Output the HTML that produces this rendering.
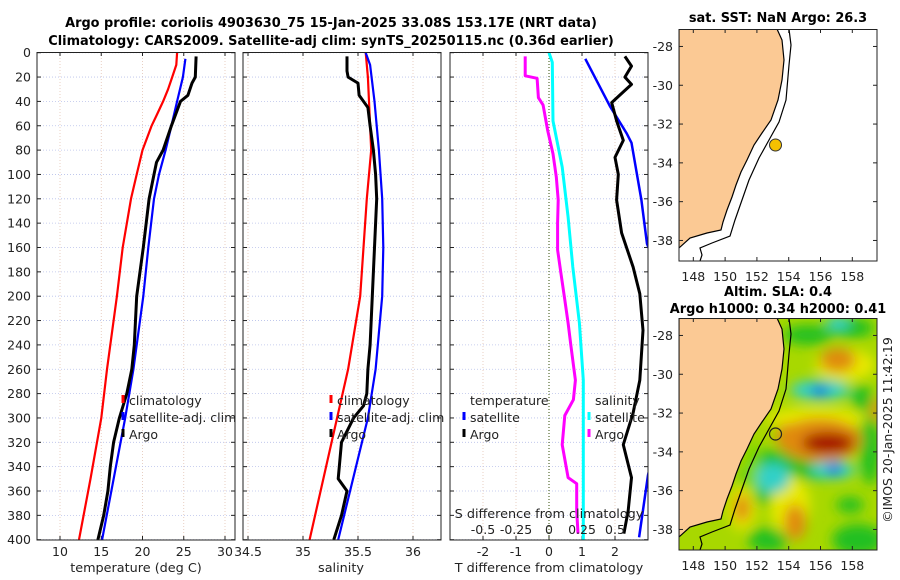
<!DOCTYPE html>
<html><head><meta charset="utf-8">
<style>
html,body{margin:0;padding:0;background:#fff;}
svg{display:block;font-family:"DejaVu Sans","Liberation Sans",sans-serif;}
</style></head>
<body>
<svg id="fig" width="900" height="580" viewBox="0 0 900 580" xmlns="http://www.w3.org/2000/svg">
<defs>
<clipPath id="c1"><rect x="37" y="52" width="198" height="488"/></clipPath>
<clipPath id="c2"><rect x="243" y="52" width="198" height="488"/></clipPath>
<clipPath id="c3"><rect x="450" y="52" width="198" height="488"/></clipPath>
<clipPath id="m1"><rect x="679" y="29" width="198" height="232"/></clipPath>
<clipPath id="m2"><rect x="679" y="318" width="198" height="232"/></clipPath>
<filter id="blur" x="-20%" y="-20%" width="140%" height="140%"><feGaussianBlur stdDeviation="6"/></filter>
</defs>
<text x="331" y="27" text-anchor="middle" font-size="12.9" font-weight="bold">Argo profile: coriolis 4903630_75 15-Jan-2025 33.08S 153.17E (NRT data)</text>
<text x="331" y="45" text-anchor="middle" font-size="12.9" font-weight="bold">Climatology: CARS2009. Satellite-adj clim: synTS_20250115.nc (0.36d earlier)</text>
<text x="778" y="22" text-anchor="middle" font-size="12.9" font-weight="bold">sat. SST: NaN Argo: 26.3</text>
<text x="778" y="296" text-anchor="middle" font-size="12.9" font-weight="bold">Altim. SLA: 0.4</text>
<text x="778" y="313" text-anchor="middle" font-size="12.9" font-weight="bold">Argo h1000: 0.34 h2000: 0.41</text>
<text transform="translate(892,430) rotate(-90)" text-anchor="middle" font-size="12.5" fill="#222">©IMOS 20-Jan-2025 11:42:19</text>
<g id="root"></g>
</svg>
<script>
// ---- data ----
const depthTclim=[0,10,20,30,40,50,60,80,100,120,160,200,260,300,350,400];
const tempClim=[24.2,24.1,23.6,23.1,22.5,21.8,21.1,20.0,19.3,18.6,17.6,16.9,15.7,15.0,13.7,12.3];
const depthTsat=[5,20,40,60,80,100,120,160,200,260,300,400];
const tempSat=[25.2,24.9,24.2,23.5,22.8,22.0,21.4,20.7,20.1,18.9,17.9,15.1];
const depthTargo=[3,20,25,35,40,60,80,90,100,120,160,200,240,260,280,300,320,340,360,380,400];
const tempArgo=[26.5,26.4,26.0,25.5,24.6,23.5,22.5,21.7,21.4,20.8,20.1,19.3,19.0,18.7,18.1,17.2,16.5,16.1,15.8,15.3,14.6];
const depthSclim=[0,20,80,120,200,260,300,400];
const salClim=[35.57,35.59,35.62,35.58,35.52,35.41,35.31,35.06];
const depthSsat=[0,10,40,80,120,160,200,260,300,400];
const salSat=[35.57,35.61,35.65,35.69,35.72,35.73,35.72,35.66,35.59,35.32];
const depthSargo=[3,15,20,25,35,45,60,80,100,120,160,200,240,260,280,290,300,320,340,350,360,380,400];
const salArgo=[35.40,35.40,35.41,35.50,35.51,35.59,35.61,35.64,35.66,35.67,35.65,35.63,35.61,35.59,35.58,35.55,35.46,35.35,35.33,35.32,35.40,35.35,35.28];
const depthSdiffArgo=[3,19,21,37,43,64,83,102,121,140,162,181,203,222,240,269,285,298,322,349,354,376,395];
const sDiffArgo=[-0.18,-0.18,-0.09,-0.08,-0.045,-0.01,0.03,0.055,0.07,0.065,0.065,0.09,0.12,0.145,0.165,0.2,0.185,0.12,0.1,0.145,0.21,0.21,0.22];
const depthSdiffSat=[0,8,56,94,135,176,222,269,400];
const sDiffSat=[0,0.025,0.03,0.1,0.145,0.18,0.23,0.26,0.26];
const depthTdiffSat=[5,44,66,74,121,157,200,300,347,398];
const tDiffSat=[1.1,1.85,2.35,2.5,2.8,2.97,3.6,3.4,3.0,2.73];
const depthTdiffArgo=[3,11,20,26,36,41,56,72,86,100,121,148,176,198,228,269,296,322,349,376,395];
const tDiffArgo=[2.3,2.5,2.3,2.5,2.1,1.9,2.05,2.25,2.0,2.1,2.05,2.2,2.55,2.75,2.85,2.75,2.55,2.25,2.5,2.4,2.27];
const depthTicks=[0,20,40,60,80,100,120,140,160,180,200,220,240,260,280,300,320,340,360,380,400];
const tTicks=[10,15,20,25,30];
const sTicks=[34.5,35,35.5,36];
const tdTicks=[-2,-1,0,1,2];
const sdTicks=[-0.5,-0.25,0,0.25,0.5];
const sdTickLabels=["-0.5","-0.25","0","0.25","0.5"];
const lonTicks=[148,150,152,154,156,158];
const latTicks=[-28,-30,-32,-34,-36,-38];
const argoLon=[153.17], argoLat=[-33.08];

// ---- helpers ----
const NS='http://www.w3.org/2000/svg';
const root=document.getElementById('root');
function mk(tag,attrs,parent){const e=document.createElementNS(NS,tag);for(const k in attrs)e.setAttribute(k,attrs[k]);(parent||root).appendChild(e);return e;}
const Y=d=>52.7+d*1.2175;
const xT=t=>60+(t-10)*8.25;
const xS=s=>303+(s-35)*110;
const xTd=v=>549+v*33;
const xSd=v=>549+v*132;
const lonX=l=>679+(l-147.1)*15.9;
const latY1=la=>29+(-27.1-la)*19.4;
const latY2=la=>318+(-27.1-la)*19.4;

function panel(x0,name){
  const g=mk('g',{});
  
  
  return g;
}
function gridAndAxes(g,x0,vx){
  vx.forEach(x=>{const l=mk('line',{x1:x,x2:x,y1:52,y2:540,stroke:'#e3c4b4','stroke-width':0.8,'stroke-dasharray':'1,2'},g);
    });
  depthTicks.forEach(d=>{const l=mk('line',{x1:x0,x2:x0+198,y1:Y(d),y2:Y(d),stroke:'#b8c0ea','stroke-width':0.8,'stroke-dasharray':'1,2'},g);
    
    mk('line',{x1:x0,x2:x0+4,y1:Y(d),y2:Y(d),stroke:'#222'},g);mk('line',{x1:x0+194,x2:x0+198,y1:Y(d),y2:Y(d),stroke:'#222'},g);});
  vx.forEach(x=>{mk('line',{x1:x,x2:x,y1:52,y2:56,stroke:'#222'},g);mk('line',{x1:x,x2:x,y1:536,y2:540,stroke:'#222'},g);});
}
function frame(g,x0){const r=mk('rect',{x:x0,y:52.5,width:198,height:487.5,fill:'none',stroke:'#222','stroke-width':1},g);
  }
function line(g,clip,ds,vs,fx,color,w,name){
  const pts=ds.map((d,i)=>fx(vs[i]).toFixed(1)+','+Y(d).toFixed(1)).join(' ');
  const p=mk('polyline',{points:pts,fill:'none',stroke:color,'stroke-width':w,'stroke-linejoin':'round','clip-path':'url(#'+clip+')'},g);
  
}
function txt(g,x,y,s,attrs,name){const t=mk('text',Object.assign({x:x,y:y,'font-size':12.5,fill:'#222'},attrs||{}),g);t.textContent=s;
  return t;}
function legend(g,x,y,color,label,name){
  const m=mk('line',{x1:x,x2:x,y1:y-10,y2:y-2,stroke:color,'stroke-width':3},g);
  
  txt(g,x+6,y,label,{'font-size':12.5},name);
}

// depth labels
depthTicks.forEach(d=>txt(root,31,Y(d)+4.5,String(d),{'text-anchor':'end'},'depth-tick-label'));

// panel 1 temperature
const p1=panel(37,'temperature-panel');
gridAndAxes(p1,37,tTicks.map(xT));
line(p1,'c1',depthTclim,tempClim,xT,'#ff0000',2.2,'temp-climatology-line');
line(p1,'c1',depthTsat,tempSat,xT,'#0000ff',2.2,'temp-satellite-line');
line(p1,'c1',depthTargo,tempArgo,xT,'#000',3,'temp-argo-line');
frame(p1,37);
tTicks.forEach(t=>txt(p1,xT(t),556,String(t),{'text-anchor':'middle'},'temp-tick-label'));
txt(p1,136,572,'temperature (deg C)',{'text-anchor':'middle','font-size':12.8},'temp-axis-title');
legend(p1,123,405,'#ff0000','climatology','legend-climatology');
legend(p1,123,422,'#0000ff','satellite-adj. clim','legend-satellite');
legend(p1,123,439,'#000','Argo','legend-argo');

// panel 2 salinity
const p2=panel(243,'salinity-panel');
gridAndAxes(p2,243,sTicks.map(xS));
line(p2,'c2',depthSclim,salClim,xS,'#ff0000',2.2,'sal-climatology-line');
line(p2,'c2',depthSsat,salSat,xS,'#0000ff',2.2,'sal-satellite-line');
line(p2,'c2',depthSargo,salArgo,xS,'#000',3,'sal-argo-line');
frame(p2,243);
sTicks.forEach(s=>txt(p2,xS(s),556,String(s),{'text-anchor':'middle'},'sal-tick-label'));
txt(p2,341,572,'salinity',{'text-anchor':'middle','font-size':12.8},'sal-axis-title');
legend(p2,331,405,'#ff0000','climatology','legend-climatology');
legend(p2,331,422,'#0000ff','satellite-adj. clim','legend-satellite');
legend(p2,331,439,'#000','Argo','legend-argo');

// panel 3 differences
const p3=panel(450,'difference-panel');
gridAndAxes(p3,450,tdTicks.map(xTd));
const zl=mk('line',{x1:xTd(0),x2:xTd(0),y1:52,y2:540,stroke:'#556b2f','stroke-width':1.2,'stroke-dasharray':'1,2'},p3);

line(p3,'c3',depthSdiffArgo,sDiffArgo,xSd,'#ff00ff',3,'sdiff-argo-line');
line(p3,'c3',depthSdiffSat,sDiffSat,xSd,'#00ffff',3,'sdiff-satellite-line');
line(p3,'c3',depthTdiffSat,tDiffSat,xTd,'#0000ff',2.5,'tdiff-satellite-line');
line(p3,'c3',depthTdiffArgo,tDiffArgo,xTd,'#000',3,'tdiff-argo-line');
frame(p3,450);
tdTicks.forEach(t=>txt(p3,xTd(t),556,String(t),{'text-anchor':'middle'},'tdiff-tick-label'));
txt(p3,549,572,'T difference from climatology',{'text-anchor':'middle','font-size':12.8},'tdiff-axis-title');
txt(p3,549,518,'S difference from climatology',{'text-anchor':'middle','font-size':12.8},'sdiff-axis-title');
sdTicks.forEach((s,i)=>txt(p3,xSd(s),534,sdTickLabels[i],{'text-anchor':'middle'},'sdiff-tick-label'));
txt(p3,470,405,'temperature',{'font-size':12.5},'legend-temperature-heading');
legend(p3,464,422,'#0000ff','satellite','legend-t-satellite');
legend(p3,464,439,'#000','Argo','legend-t-argo');
txt(p3,595,405,'salinity',{'font-size':12.5},'legend-salinity-heading');
legend(p3,589,422,'#00ffff','satellite','legend-s-satellite');
legend(p3,589,439,'#ff00ff','Argo','legend-s-argo');

// maps
const land=[[679,29],[777,29],[782,40],[784,60],[782,80],[778,100],[771,120],[762,133],[754,145],[747,160],[741,172],[736,185],[732,197],[727,210],[723,222],[721,230],[707,233],[690,238],[679,248]];
const bathy=[[789,29],[791,45],[789,65],[786,100],[779,122],[769,140],[759,158],[749,180],[742,200],[735,220],[730,236],[712,243],[700,248],[702,255],[700,261]];
function ptsStr(a,dy){return a.map(p=>p[0]+','+(p[1]+dy)).join(' ');}
function mapAxes(g,top,latY){
  lonTicks.forEach(l=>{const x=lonX(l);mk('line',{x1:x,x2:x,y1:top+232,y2:top+228,stroke:'#222'},g);mk('line',{x1:x,x2:x,y1:top,y2:top+4,stroke:'#222'},g);
    txt(g,x,top+252,String(l),{'text-anchor':'middle'},'lon-tick-label');});
  latTicks.forEach(la=>{const y=latY(la);mk('line',{x1:679,x2:683,y1:y,y2:y,stroke:'#222'},g);mk('line',{x1:873,x2:877,y1:y,y2:y,stroke:'#222'},g);
    txt(g,673,y+4.5,String(la),{'text-anchor':'end'},'lat-tick-label');});
  const r=mk('rect',{x:679,y:top+0.5,width:198,height:231.5,fill:'none',stroke:'#222'},g);
  
}
// map 1
const mp1=panel(679,'sst-map');
mk('rect',{x:679,y:29,width:198,height:232,fill:'#fff'},mp1);
const l1=mk('polygon',{points:ptsStr(land,0),fill:'#fbc994',stroke:'#000','stroke-width':1.2,'clip-path':'url(#m1)'},mp1);

const b1=mk('polyline',{points:ptsStr(bathy,0),fill:'none',stroke:'#000','stroke-width':1.2,'clip-path':'url(#m1)'},mp1);

mapAxes(mp1,29,latY1);
const a1=mk('circle',{cx:lonX(argoLon[0]),cy:latY1(argoLat[0]),r:6,fill:'#f5c000',stroke:'#333'},mp1);


// map 2
const mp2=panel(679,'sla-map');
const fg=mk('g',{'clip-path':'url(#m2)'},mp2);
mk('rect',{x:679,y:318,width:198,height:232,fill:'#a8d800'},fg);
const bl=mk('g',{filter:'url(#blur)'},fg);
const blobs=[
[772,478,32,28,'#22c022'],[810,468,40,12,'#22c022'],[870,450,10,35,'#22c022'],[858,540,26,16,'#22c022'],[768,540,20,12,'#22c022'],
[808,335,25,10,'#22c022'],[852,328,22,10,'#22c022'],[862,398,10,14,'#22c022'],[850,505,14,8,'#22c022'],[752,470,8,30,'#7ad800'],
[845,365,30,16,'#e8e800'],[815,418,50,10,'#e8e800'],[790,505,20,30,'#e8e800'],[742,508,14,22,'#e8e800'],
[838,360,18,12,'#e08a10'],[820,440,42,22,'#e08a10'],[788,437,12,14,'#e08a10'],[742,508,8,14,'#e08a10'],[795,522,11,18,'#e08a10'],[876,410,5,12,'#e08a10'],
[828,443,26,11,'#a51000'],
[820,390,30,10,'#30d0c8'],[773,478,17,15,'#30d0c8'],[833,470,22,9,'#30d0c8'],[838,323,12,7,'#30d0c8'],
[820,391,9,5,'#1060e8'],[834,469,7,6,'#1060e8']];
blobs.forEach(b=>mk('ellipse',{cx:b[0],cy:b[1],rx:b[2],ry:b[3],fill:b[4]},bl));
const l2=mk('polygon',{points:ptsStr(land,289),fill:'#fbc994',stroke:'#000','stroke-width':1.2},fg);

const b2=mk('polyline',{points:ptsStr(bathy,289),fill:'none',stroke:'#000','stroke-width':1.2},fg);

mapAxes(mp2,318,latY2);
const a2=mk('circle',{cx:lonX(argoLon[0]),cy:latY2(argoLat[0]),r:6,fill:'none',stroke:'#222','stroke-width':1.2},mp2);

</script>
</body></html>
